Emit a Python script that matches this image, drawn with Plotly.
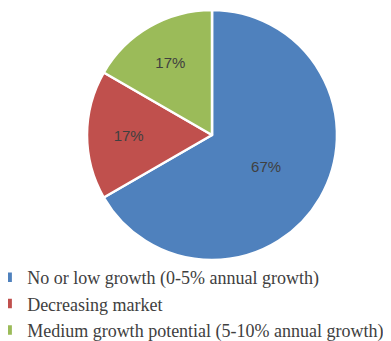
import plotly.graph_objects as go

labels = [
    "No or low growth (0-5% annual growth)",
    "Decreasing market",
    "Medium growth potential (5-10% annual growth)",
]
values = [4, 1, 1]
colors = ["#4F81BD", "#C0504D", "#9BBB59"]

fig = go.Figure(
    go.Pie(
        labels=labels,
        values=values,
        sort=False,
        direction="clockwise",
        rotation=0,
        marker=dict(colors=colors, line=dict(color="white", width=2.5)),
        texttemplate="%{percent:.0%}",
        textposition="inside",
        insidetextorientation="horizontal",
        textfont=dict(family="Liberation Sans", size=15, color="#404040"),
        domain=dict(x=[79 / 391, 329 / 391], y=[1 - 252 / 341, 1 - 2 / 341]),
        hoverinfo="label+percent",
    )
)

fig.update_layout(
    width=391,
    height=341,
    margin=dict(l=0, r=0, t=0, b=0, autoexpand=False),
    paper_bgcolor="white",
    showlegend=True,
    legend=dict(
        orientation="v",
        x=-0.015,
        xanchor="left",
        y=0.0,
        yanchor="bottom",
        font=dict(family="Liberation Serif", size=18, color="#404040"),
        tracegroupgap=0,
        itemwidth=30,
        indentation=-15,
        bgcolor="rgba(0,0,0,0)",
    ),
)

fig.write_html("out.html")
